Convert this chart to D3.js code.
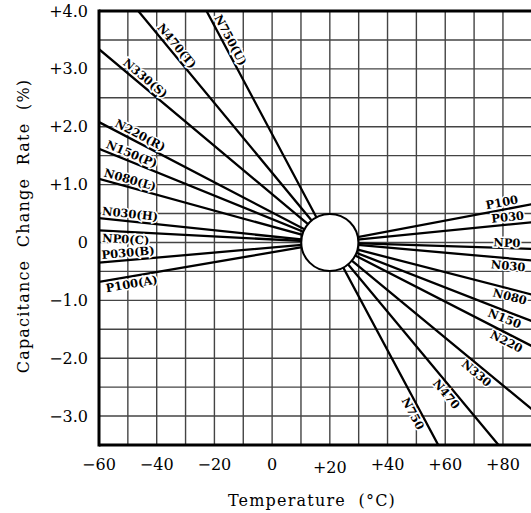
<!DOCTYPE html>
<html lang="en">
<head>
<meta charset="UTF-8">
<title>Capacitance Change Rate vs Temperature</title>
<script src="https://d3js.org/d3.v7.min.js"></script>
<style>
  body { margin: 0; background: #fff; }
  text { font-family: "DejaVu Serif", serif; fill: #000; }
  .tick-label { font-size: 16px; }
  .axis-title { font-size: 16px; letter-spacing: 1.2px; }
  .line-label { font-size: 11.5px; font-weight: bold; }
</style>
</head>
<body>
<div id="chart"></div>
<script>
// temperature classes, drawn as straight lines that meet at 20 degC / 0 %
const classes = ["N750", "N470", "N330", "N220", "N150", "N080", "N030", "NP0", "P030", "P100"];
const letters = ["U", "T", "S", "R", "P", "L", "H", "C", "B", "A"];
// change rate (%) read at the left edge (-60 degC) and the right edge (+90 degC)
const edgeTemps = [-60, 90];
const valueAtLeft = [7.49, 4.82, 3.34, 2.08, 1.62, 1.10, 0.42, 0.21, -0.35, -0.68];
const valueAtRight = [-6.52, -4.19, -2.88, -1.79, -1.36, -0.90, -0.31, -0.11, 0.35, 0.66];
const refPoint = [20, 0];

const xTicks = [-60, -40, -20, 0, 20, 40, 60, 80];
const xTickLabels = ["\u221260", "\u221240", "\u221220", "0", "+20", "+40", "+60", "+80"];
const yTicks = [4, 3, 2, 1, 0, -1, -2, -3];
const yTickLabels = ["+4.0", "+3.0", "+2.0", "+1.0", "0", "\u22121.0", "\u22122.0", "\u22123.0"];

// where each label sits along its line (temperature) and on which side
const leftLabelT = [-16.7, -35.0, -45.6, -46.9, -49.6, -49.9, -49.5, -50.6, -49.7, -49.1];
const leftLabelSide = [-1, -1, -1, -1, -1, -1, -1, 1, -1, 1];
const rightLabelT = [51.1, 62.4, 72.5, 82.4, 81.5, 83, 82, 81.3, 81.9, 80.1];
const rightLabelSide = [1, 1, 1, 1, 1, 1, 1, -0.7, -1, -1];

const W = 531, H = 513;
const x = d3.scaleLinear().domain([-60, 90]).range([99, 531.8]);
const y = d3.scaleLinear().domain([-3.5, 4.0]).range([445, 11]);

const svg = d3.select("#chart").append("svg")
  .attr("width", W).attr("height", H);

svg.append("defs").append("clipPath").attr("id", "plot")
  .append("rect")
  .attr("x", x(-60)).attr("y", y(4))
  .attr("width", W - x(-60)).attr("height", y(-3.5) - y(4));

// grid
const grid = svg.append("g").attr("stroke", "#444").attr("stroke-width", 1.4);
grid.selectAll("line.v")
  .data(d3.range(-50, 91, 10))
  .enter().append("line")
  .attr("x1", d => x(d)).attr("x2", d => x(d))
  .attr("y1", y(4)).attr("y2", y(-3.5));
grid.selectAll("line.h")
  .data(d3.range(-3, 3.6, 0.5))
  .enter().append("line")
  .attr("x1", x(-60)).attr("x2", W)
  .attr("y1", d => y(d)).attr("y2", d => y(d));

// class lines
const lineData = classes.map((c, i) => [
  [edgeTemps[0], valueAtLeft[i]],
  refPoint,
  [edgeTemps[1], valueAtRight[i]]
]);
const lineGen = d3.line().x(d => x(d[0])).y(d => y(d[1]));
const plot = svg.append("g").attr("clip-path", "url(#plot)");
plot.selectAll("path.cls")
  .data(lineData)
  .enter().append("path")
  .attr("d", lineGen)
  .attr("fill", "none")
  .attr("stroke", "#000")
  .attr("stroke-width", 2.3);

// labels along the lines
function placeLabel(g, i, t, side, text, edgeIdx) {
  const v0 = edgeIdx === 0 ? valueAtLeft[i] : valueAtRight[i];
  const t0 = edgeTemps[edgeIdx];
  const v = refPoint[1] + (v0 - refPoint[1]) * (t - refPoint[0]) / (t0 - refPoint[0]);
  const px = x(t), py = y(v);
  const ang = Math.atan2(y(v0) - y(refPoint[1]), x(t0) - x(refPoint[0])) * 180 / Math.PI;
  const a = edgeIdx === 0 ? ang + 180 : ang;
  g.append("text")
    .attr("class", "line-label")
    .attr("transform", `translate(${px},${py}) rotate(${a})`)
    .attr("y", side * 7.5)
    .attr("text-anchor", "middle")
    .attr("dominant-baseline", "central")
    .attr("stroke", "#fff").attr("stroke-width", 3)
    .attr("paint-order", "stroke")
    .text(text);
}
const labels = plot.append("g");
classes.forEach((c, i) => {
  placeLabel(labels, i, leftLabelT[i], leftLabelSide[i], `${c}(${letters[i]})`, 0);
  placeLabel(labels, i, rightLabelT[i], rightLabelSide[i], c, 1);
});

// centre circle
svg.append("circle")
  .attr("cx", x(refPoint[0])).attr("cy", y(refPoint[1]))
  .attr("r", x(30) - x(20) - 0.3)
  .attr("fill", "#fff")
  .attr("stroke", "#000")
  .attr("stroke-width", 2);

// frame
const frame = svg.append("g").attr("stroke", "#000").attr("stroke-width", 3);
frame.append("line").attr("x1", x(-60)).attr("x2", x(-60)).attr("y1", y(4) - 1.5).attr("y2", y(-3.5) + 1.5);
frame.append("line").attr("x1", x(-60)).attr("x2", W).attr("y1", y(4)).attr("y2", y(4));
frame.append("line").attr("x1", x(-60)).attr("x2", W).attr("y1", y(-3.5)).attr("y2", y(-3.5));

// tick labels
svg.selectAll("text.ylab")
  .data(yTicks)
  .enter().append("text")
  .attr("class", "tick-label")
  .attr("x", 88)
  .attr("y", d => y(d))
  .attr("text-anchor", "end")
  .attr("dominant-baseline", "central")
  .text((d, i) => yTickLabels[i]);
svg.selectAll("text.xlab")
  .data(xTicks)
  .enter().append("text")
  .attr("class", "tick-label")
  .attr("x", d => x(d))
  .attr("y", d => d === 20 ? 467 : 464)
  .attr("text-anchor", "middle")
  .attr("dominant-baseline", "central")
  .text((d, i) => xTickLabels[i]);

// axis titles
svg.append("text")
  .attr("class", "axis-title")
  .attr("x", 312).attr("y", 500)
  .attr("text-anchor", "middle")
  .attr("dominant-baseline", "central")
  .attr("xml:space", "preserve")
  .text("Temperature  (\u00B0C)");
svg.append("text")
  .attr("class", "axis-title")
  .attr("transform", "translate(23,226) rotate(-90)")
  .attr("text-anchor", "middle")
  .attr("dominant-baseline", "central")
  .attr("xml:space", "preserve")
  .text("Capacitance  Change  Rate  (%)");
</script>
</body>
</html>
